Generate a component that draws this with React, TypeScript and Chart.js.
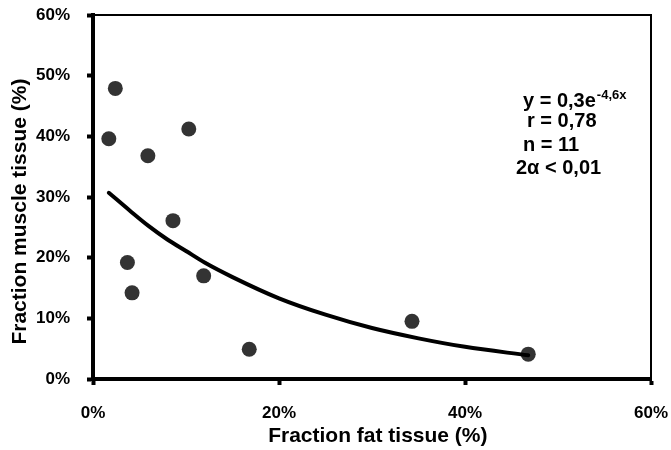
import React, { useEffect, useRef } from "react";
import { Chart, registerables } from "chart.js";

Chart.register(...registerables);

// Measured points (fraction fat tissue, fraction muscle tissue)
const fatFraction = [0.024, 0.017, 0.059, 0.103, 0.086, 0.037, 0.042, 0.119, 0.168, 0.343, 0.468];
const muscleFraction = [0.479, 0.396, 0.368, 0.412, 0.261, 0.192, 0.142, 0.170, 0.049, 0.095, 0.041];

// Fitted curve
const fitX = [0.017, 0.04, 0.06, 0.08, 0.10, 0.12, 0.15, 0.20, 0.25, 0.30, 0.35, 0.40, 0.468];
const fitY = [0.307, 0.277, 0.252, 0.230, 0.211, 0.192, 0.168, 0.133, 0.106, 0.084, 0.067, 0.053, 0.039];

const xTickValues = [0, 0.2, 0.4, 0.6];
const yTickValues = [0, 0.1, 0.2, 0.3, 0.4, 0.5, 0.6];

const xTitle = "  Fraction fat tissue (%)";
const yTitle = "Fraction muscle tissue (%)     ";

const statLines = ["y = 0,3e", "r = 0,78", "n = 11", "2\u03B1 < 0,01"];
const statExponent = "-4,6x";

const FONT = '"Liberation Sans", Arial, sans-serif';

const pct = (v: number) => Math.round(v * 100) + "%";

const framePlugin = {
  id: "frameAndStats",
  afterDraw(chart: any) {
    const { ctx, chartArea } = chart;
    const { left, top, right, bottom } = chartArea;
    ctx.save();
    // thin top/right frame
    ctx.strokeStyle = "#000";
    ctx.lineWidth = 2;
    ctx.beginPath();
    ctx.moveTo(left, top);
    ctx.lineTo(right, top);
    ctx.lineTo(right, bottom);
    ctx.stroke();

    // statistics text
    ctx.fillStyle = "#000";
    ctx.textBaseline = "alphabetic";
    ctx.textAlign = "left";
    ctx.font = `bold 20px ${FONT}`;
    const x0 = left + 430;
    ctx.fillText(statLines[0], x0, top + 92);
    const w = ctx.measureText(statLines[0]).width;
    ctx.font = `bold 13px ${FONT}`;
    ctx.fillText(statExponent, x0 + w + 1, top + 84);
    ctx.font = `bold 20px ${FONT}`;
    ctx.fillText(statLines[1], x0 + 4, top + 112);
    ctx.fillText(statLines[2], x0, top + 136);
    ctx.fillText(statLines[3], x0 - 7, top + 159);
    ctx.restore();
  },
};

export default function App() {
  const canvasRef = useRef<HTMLCanvasElement | null>(null);

  useEffect(() => {
    document.body.style.margin = "0";
    const canvas = canvasRef.current;
    if (!canvas) return;

    const chart = new Chart(canvas, {
      type: "scatter",
      data: {
        datasets: [
          {
            label: "fit",
            data: fitX.map((x, i) => ({ x, y: fitY[i] })),
            showLine: true,
            borderColor: "#000",
            borderWidth: 4,
            borderCapStyle: "round",
            cubicInterpolationMode: "monotone",
            pointRadius: 0,
            pointHoverRadius: 0,
            fill: false,
          },
          {
            label: "samples",
            data: fatFraction.map((x, i) => ({ x, y: muscleFraction[i] })),
            showLine: false,
            pointRadius: 7.5,
            pointBackgroundColor: "#333333",
            pointBorderColor: "#333333",
            pointBorderWidth: 0,
            backgroundColor: "#333333",
          },
        ],
      },
      options: {
        responsive: false,
        animation: false,
        devicePixelRatio: 1,
        layout: { padding: { left: 0, top: 15, right: 20, bottom: 0 } },
        plugins: {
          legend: { display: false },
          tooltip: { enabled: false },
        },
        scales: {
          x: {
            type: "linear",
            position: "bottom",
            min: 0,
            max: 0.6,
            afterBuildTicks: (scale: any) => {
              scale.ticks = xTickValues.map((value) => ({ value }));
            },
            afterFit: (scale: any) => {
              scale.height = 71;
              scale.paddingLeft = 0;
              scale.paddingRight = 0;
            },
            ticks: {
              callback: (v: any) => pct(Number(v)),
              color: "#000",
              font: { family: FONT, size: 17, weight: "bold" },
              padding: 18,
              maxRotation: 0,
            },
            grid: {
              display: true,
              drawOnChartArea: false,
              drawTicks: true,
              tickLength: 6,
              tickWidth: 4,
              tickColor: "#000",
            },
            border: { display: true, color: "#000", width: 4 },
            title: {
              display: true,
              text: xTitle,
              color: "#000",
              font: { family: FONT, size: 21, weight: "bold" },
              padding: { top: 0, bottom: 1 },
            },
          },
          y: {
            type: "linear",
            position: "left",
            min: 0,
            max: 0.6,
            afterBuildTicks: (scale: any) => {
              scale.ticks = yTickValues.map((value) => ({ value }));
            },
            afterFit: (scale: any) => {
              scale.width = 93;
              scale.paddingTop = 0;
              scale.paddingBottom = 0;
            },
            ticks: {
              callback: (v: any) => pct(Number(v)),
              color: "#000",
              font: { family: FONT, size: 17, weight: "bold" },
              padding: 17,
            },
            grid: {
              display: true,
              drawOnChartArea: false,
              drawTicks: true,
              tickLength: 6,
              tickWidth: 4,
              tickColor: "#000",
            },
            border: { display: true, color: "#000", width: 4 },
            title: {
              display: true,
              text: yTitle,
              color: "#000",
              font: { family: FONT, size: 21, weight: "bold" },
              padding: { top: 8, bottom: 0 },
            },
          },
        },
      },
      plugins: [framePlugin],
    });

    return () => chart.destroy();
  }, []);

  return (
    <div style={{ width: 671, height: 450, background: "#fff" }}>
      <canvas ref={canvasRef} width={671} height={450} style={{ display: "block" }} />
    </div>
  );
}
